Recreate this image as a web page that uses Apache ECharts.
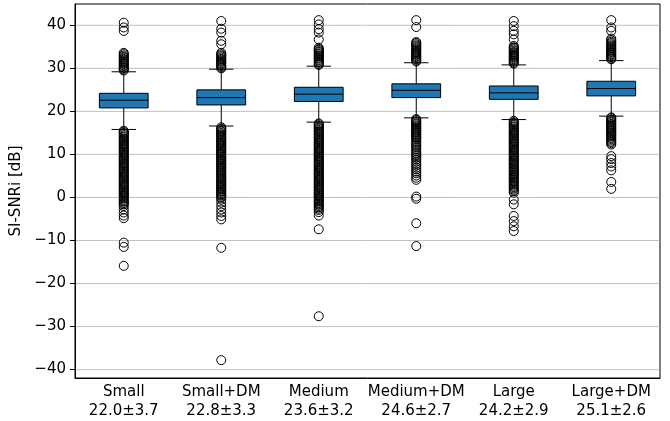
<!DOCTYPE html>
<html>
<head>
<meta charset="utf-8">
<script src="https://cdn.jsdelivr.net/npm/echarts@6/dist/echarts.min.js"></script>
<style>html,body{margin:0;padding:0;background:#fff}#c{width:670px;height:421px}</style>
</head>
<body>
<div id="c"></div>
<script>
const categories = ['Small', 'Small+DM', 'Medium', 'Medium+DM', 'Large', 'Large+DM'];
const statLabels = ['22.0±3.7', '22.8±3.3', '23.6±3.2', '24.6±2.7', '24.2±2.9', '25.1±2.6'];
const yTicks = [-40, -30, -20, -10, 0, 10, 20, 30, 40];
// [lowerWhisker, Q1, median, Q3, upperWhisker]
const boxStats = [
  [15.8, 20.8, 22.6, 24.2, 29.2],
  [16.6, 21.5, 23.2, 25.0, 29.8],
  [17.5, 22.3, 24.0, 25.6, 30.5],
  [18.5, 23.2, 24.9, 26.4, 31.3],
  [18.1, 22.8, 24.3, 25.9, 30.8],
  [18.9, 23.6, 25.3, 27.0, 31.8]
];
const outSmall = [29.5, 29.7, 30.0, 30.2, 30.5, 30.7, 31.0, 31.2, 31.5, 31.7, 32.0, 32.2, 32.5, 32.7, 33.0, 33.3, 33.6, 38.7, 39.5, 40.6,
  15.5, 15.3, 15.0, 14.8, 14.5, 14.2, 14.0, 13.7, 13.5, 13.2, 13.0, 12.7, 12.4, 12.2, 11.9, 11.7, 11.4, 11.2, 10.9, 10.6, 10.4, 10.1, 9.9, 9.6, 9.3, 9.1, 8.8, 8.6, 8.3, 8.0, 7.8, 7.5, 7.3, 7.0, 6.8, 6.5, 6.2, 6.0, 5.7, 5.5, 5.2, 4.9, 4.7, 4.4, 4.2, 3.9, 3.7, 3.4, 3.1, 2.9, 2.6, 2.4, 2.1, 1.8, 1.6, 1.3, 1.1, 0.8, 0.5, 0.3, 0.0, -0.2, -0.5, -0.8, -1.0, -1.3, -1.6, -2.0, -2.8, -3.5, -4.2, -4.8, -10.5, -11.5, -15.9];
const outSmallDM = [30.0, 30.2, 30.5, 30.7, 31.0, 31.2, 31.5, 31.7, 32.0, 32.2, 32.5, 32.8, 33.0, 33.3, 33.6, 35.6, 36.4, 38.3, 39.2, 41.0,
  16.3, 16.0, 15.8, 15.5, 15.3, 15.0, 14.7, 14.5, 14.2, 14.0, 13.7, 13.4, 13.2, 12.9, 12.7, 12.4, 12.1, 11.9, 11.6, 11.4, 11.1, 10.8, 10.6, 10.3, 10.1, 9.8, 9.5, 9.3, 9.0, 8.7, 8.5, 8.2, 7.9, 7.7, 7.4, 7.1, 6.9, 6.6, 6.3, 6.1, 5.8, 5.5, 5.3, 5.0, 4.7, 4.5, 4.2, 3.9, 3.7, 3.4, 3.1, 2.9, 2.6, 2.3, 2.1, 1.8, 1.5, 1.3, 1.0, 0.7, 0.5, 0.2, -0.1, -0.5, -1.2, -2.0, -2.8, -3.5, -4.3, -5.1, -11.7, -37.8];
const outMedium = [30.8, 31.0, 31.3, 31.5, 31.8, 32.0, 32.3, 32.5, 32.8, 33.0, 33.3, 33.5, 33.8, 34.0, 34.3, 34.5, 34.8, 36.7, 38.3, 39.1, 40.2, 41.2,
  17.2, 17.0, 16.7, 16.5, 16.2, 16.0, 15.7, 15.4, 15.2, 14.9, 14.7, 14.4, 14.1, 13.9, 13.6, 13.4, 13.1, 12.8, 12.6, 12.3, 12.1, 11.8, 11.5, 11.3, 11.0, 10.8, 10.5, 10.2, 10.0, 9.7, 9.5, 9.2, 8.9, 8.7, 8.4, 8.2, 7.9, 7.6, 7.4, 7.1, 6.9, 6.6, 6.3, 6.1, 5.8, 5.6, 5.3, 5.0, 4.8, 4.5, 4.3, 4.0, 3.7, 3.5, 3.2, 3.0, 2.7, 2.4, 2.2, 1.9, 1.7, 1.4, 1.1, 0.9, 0.6, 0.4, 0.1, -0.2, -0.4, -0.7, -0.9, -1.2, -1.5, -1.7, -2.0, -2.3, -2.6, -2.9, -3.4, -4.2, -7.4, -27.6];
const outMediumDM = [31.6, 31.8, 32.1, 32.3, 32.6, 32.8, 33.1, 33.3, 33.6, 33.8, 34.1, 34.3, 34.6, 34.8, 35.1, 35.3, 35.6, 35.9, 36.1, 39.6, 41.2,
  18.2, 18.0, 17.7, 17.5, 17.2, 17.0, 16.7, 16.5, 16.2, 16.0, 15.7, 15.5, 15.2, 15.0, 14.7, 14.5, 14.2, 14.0, 13.7, 13.5, 13.1, 12.7, 12.3, 12.0, 11.6, 11.2, 10.8, 10.4, 10.0, 9.6, 9.2, 8.8, 8.3, 7.8, 7.4, 6.9, 6.5, 6.0, 5.6, 5.1, 4.6, 4.1, 0.2, -0.3, -6.0, -11.3];
const outLarge = [31.1, 31.3, 31.6, 31.8, 32.1, 32.3, 32.6, 32.8, 33.1, 33.3, 33.6, 33.8, 34.1, 34.4, 34.7, 34.9, 35.2, 36.7, 37.9, 38.7, 39.8, 41.0,
  17.8, 17.5, 17.3, 17.0, 16.8, 16.5, 16.3, 16.0, 15.7, 15.5, 15.2, 15.0, 14.7, 14.4, 14.2, 13.9, 13.7, 13.4, 13.1, 12.9, 12.6, 12.4, 12.1, 11.8, 11.6, 11.3, 11.0, 10.8, 10.5, 10.2, 10.0, 9.7, 9.4, 9.2, 8.9, 8.6, 8.4, 8.1, 7.8, 7.6, 7.3, 7.0, 6.8, 6.5, 6.2, 6.0, 5.7, 5.4, 5.2, 4.9, 4.6, 4.4, 4.1, 3.8, 3.6, 3.3, 3.0, 2.7, 2.4, 2.1, 1.8, 1.5, 1.1, -0.5, -1.6, -4.3, -5.5, -6.7, -7.8];
const outLargeDM = [32.1, 32.3, 32.6, 32.8, 33.1, 33.3, 33.6, 33.8, 34.1, 34.3, 34.6, 34.8, 35.1, 35.3, 35.6, 35.9, 36.2, 36.5, 36.9, 38.7, 39.5, 41.2,
  18.6, 18.4, 18.1, 17.9, 17.6, 17.4, 17.1, 16.9, 16.6, 16.4, 16.1, 15.9, 15.6, 15.4, 15.1, 14.9, 14.6, 14.4, 14.1, 13.8, 13.5, 13.2, 12.9, 12.6, 12.3, 9.6, 8.9, 8.0, 7.2, 6.3, 3.6, 2.0];
const outliers = [outSmall, outSmallDM, outMedium, outMediumDM, outLarge, outLargeDM];

const boxData = boxStats.map((s, i) => [i].concat(s));
const outlierData = [];
outliers.forEach((arr, i) => arr.forEach(v => outlierData.push([i, v])));
const gridData = yTicks.map(v => [0, v]);

function renderBox(params, api) {
  const i = api.value(0);
  const lo = api.coord([i, api.value(1)]);
  const q1 = api.coord([i, api.value(2)]);
  const md = api.coord([i, api.value(3)]);
  const q3 = api.coord([i, api.value(4)]);
  const hi = api.coord([i, api.value(5)]);
  const band = api.size([1, 0])[0];
  const bw = band * 0.5, cw = band * 0.25;
  const x = lo[0];
  const ls = { stroke: '#000', lineWidth: 1 };
  return { type: 'group', children: [
    { type: 'line', shape: { x1: x, y1: hi[1], x2: x, y2: q3[1] }, style: ls },
    { type: 'line', shape: { x1: x, y1: q1[1], x2: x, y2: lo[1] }, style: ls },
    { type: 'line', shape: { x1: x - cw / 2, y1: hi[1], x2: x + cw / 2, y2: hi[1] }, style: ls },
    { type: 'line', shape: { x1: x - cw / 2, y1: lo[1], x2: x + cw / 2, y2: lo[1] }, style: ls },
    { type: 'rect', shape: { x: x - bw / 2, y: q3[1], width: bw, height: q1[1] - q3[1] }, style: { fill: '#1f77b4', stroke: '#000', lineWidth: 1 } },
    { type: 'line', shape: { x1: x - bw / 2, y1: md[1], x2: x + bw / 2, y2: md[1] }, style: ls }
  ] };
}
function renderGrid(params, api) {
  const y = api.coord([0, api.value(1)])[1];
  const cs = params.coordSys;
  return { type: 'line', shape: { x1: cs.x, y1: y, x2: cs.x + cs.width, y2: y }, style: { stroke: '#b0b0b0', lineWidth: 0.8 } };
}

const chart = echarts.init(document.getElementById('c'), null, { renderer: 'canvas' });
chart.setOption({
  animation: false,
  textStyle: { fontFamily: 'DejaVu Sans' },
  grid: { left: 75, right: 10, top: 4, bottom: 43, show: true, borderColor: '#000', borderWidth: 1, backgroundColor: 'transparent' },
  xAxis: {
    type: 'category',
    data: categories.map((c, i) => c + '\n' + statLabels[i]),
    boundaryGap: true,
    axisLine: { onZero: false, lineStyle: { color: '#000', width: 1 } },
    axisTick: { alignWithLabel: true, length: 5, lineStyle: { color: '#000' } },
    axisLabel: { color: '#000', fontSize: 15, lineHeight: 19, margin: 5, interval: 0 },
    splitLine: { show: false }
  },
  yAxis: {
    type: 'value',
    min: -41.95,
    max: 44.95,
    name: 'SI-SNRi [dB]',
    nameLocation: 'middle',
    nameGap: 48,
    nameTextStyle: { color: '#000', fontSize: 15 },
    axisLine: { show: true, onZero: false, lineStyle: { color: '#000', width: 1 } },
    axisTick: { show: true, length: 5, customValues: yTicks, lineStyle: { color: '#000' } },
    axisLabel: { color: '#000', fontSize: 15, margin: 9, customValues: yTicks, formatter: v => String(v).replace('-', '\u2212') },
    splitLine: { show: false }
  },
  series: [
    { type: 'custom', silent: true, z: 0, renderItem: renderGrid, data: gridData, encode: { x: 0, y: 1 } },
    { type: 'custom', z: 2, renderItem: renderBox, data: boxData, encode: { x: 0, y: [1, 2, 3, 4, 5] } },
    { type: 'scatter', z: 3, symbol: 'circle', symbolSize: 9, data: outlierData,
      itemStyle: { color: 'rgba(0,0,0,0)', borderColor: '#000', borderWidth: 1, opacity: 1 } }
  ]
});
</script>
</body>
</html>
